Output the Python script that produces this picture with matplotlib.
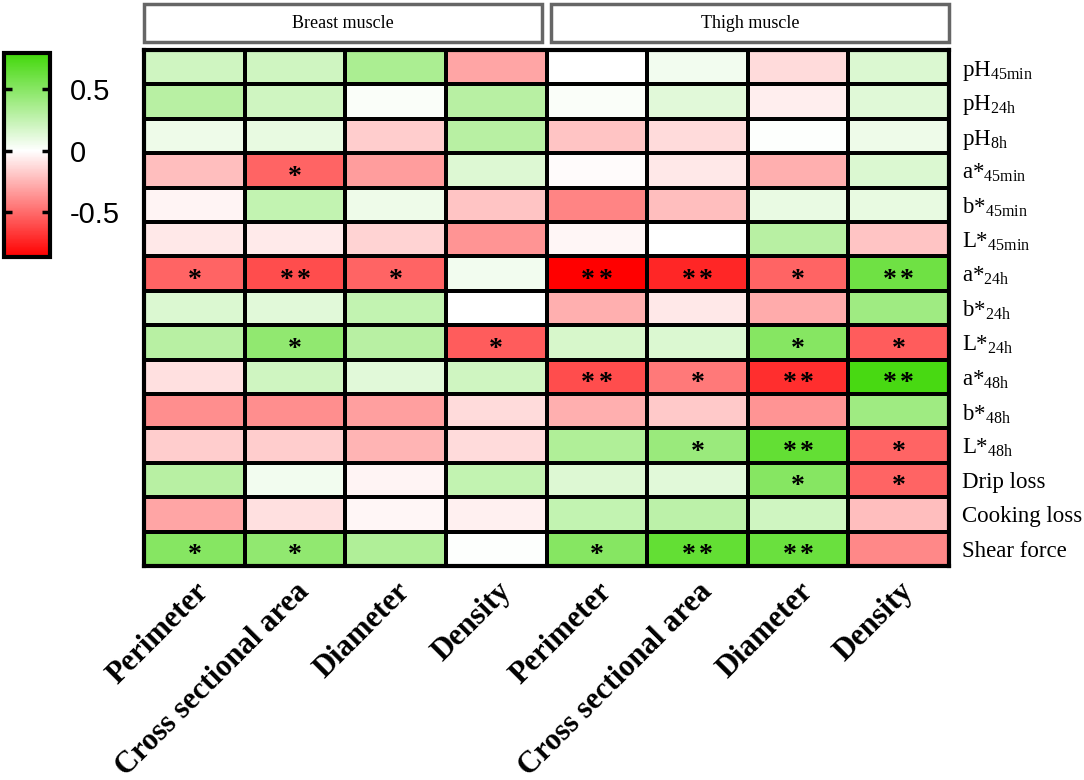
import numpy as np
import matplotlib
matplotlib.use("Agg")
import matplotlib.pyplot as plt
from matplotlib.colors import LinearSegmentedColormap, Normalize
from matplotlib.patches import Rectangle

# data
columns = ["Perimeter", "Cross sectional area", "Diameter", "Density",
           "Perimeter", "Cross sectional area", "Diameter", "Density"]
groups = ["Breast muscle", "Thigh muscle"]
rows = [r"pH$_{\mathrm{45min}}$", r"pH$_{\mathrm{24h}}$", r"pH$_{\mathrm{8h}}$",
        r"a*$_{\mathrm{45min}}$", r"b*$_{\mathrm{45min}}$", r"L*$_{\mathrm{45min}}$",
        r"a*$_{\mathrm{24h}}$", r"b*$_{\mathrm{24h}}$", r"L*$_{\mathrm{24h}}$",
        r"a*$_{\mathrm{48h}}$", r"b*$_{\mathrm{48h}}$", r"L*$_{\mathrm{48h}}$",
        "Drip loss", "Cooking loss", "Shear force"]

corr = np.array([
    [0.20, 0.20, 0.35, -0.30, 0.00, 0.05, -0.12, 0.15],
    [0.30, 0.20, 0.02, 0.30, 0.02, 0.12, -0.06, 0.13],
    [0.07, 0.10, -0.17, 0.30, -0.20, -0.12, 0.01, 0.07],
    [-0.22, -0.52, -0.33, 0.14, -0.01, -0.08, -0.27, 0.15],
    [-0.04, 0.25, 0.07, -0.20, -0.41, -0.22, 0.09, 0.10],
    [-0.08, -0.07, -0.15, -0.36, -0.03, 0.00, 0.30, -0.20],
    [-0.52, -0.60, -0.52, 0.05, -0.86, -0.73, -0.52, 0.60],
    [0.15, 0.12, 0.25, 0.00, -0.27, -0.08, -0.28, 0.40],
    [0.30, 0.46, 0.30, -0.55, 0.17, 0.15, 0.50, -0.55],
    [-0.10, 0.20, 0.12, 0.20, -0.60, -0.45, -0.70, 0.76],
    [-0.38, -0.38, -0.32, -0.12, -0.27, -0.18, -0.36, 0.40],
    [-0.17, -0.17, -0.25, -0.12, 0.33, 0.42, 0.65, -0.52],
    [0.30, 0.05, -0.04, 0.25, 0.14, 0.12, 0.50, -0.52],
    [-0.30, -0.10, -0.03, -0.05, 0.25, 0.28, 0.20, -0.22],
    [0.50, 0.46, 0.33, 0.01, 0.50, 0.65, 0.62, -0.40],
])

stars = [
    ["", "", "", "", "", "", "", ""],
    ["", "", "", "", "", "", "", ""],
    ["", "", "", "", "", "", "", ""],
    ["", "*", "", "", "", "", "", ""],
    ["", "", "", "", "", "", "", ""],
    ["", "", "", "", "", "", "", ""],
    ["*", "**", "*", "", "**", "**", "*", "**"],
    ["", "", "", "", "", "", "", ""],
    ["", "*", "", "*", "", "", "*", "*"],
    ["", "", "", "", "**", "*", "**", "**"],
    ["", "", "", "", "", "", "", ""],
    ["", "", "", "", "", "*", "**", "*"],
    ["", "", "", "", "", "", "*", "*"],
    ["", "", "", "", "", "", "", ""],
    ["*", "*", "", "", "*", "**", "**", ""],
]

vmin, vmax = -0.86, 0.79

plt.rcParams["mathtext.fontset"] = "custom"
plt.rcParams["mathtext.rm"] = "Liberation Serif"
plt.rcParams["mathtext.it"] = "Liberation Serif:italic"
plt.rcParams["font.family"] = "Liberation Serif"

W, H = 1084, 780
fig = plt.figure(figsize=(W / 100, H / 100), dpi=100)

white_pos = -vmin / (vmax - vmin)
cmap = LinearSegmentedColormap.from_list(
    "rg", [(0, "#ff0000"), (white_pos, "#ffffff"), (1, "#42d80a")])
norm = Normalize(vmin=vmin, vmax=vmax)

# heatmap
ax = fig.add_axes([144 / W, 1 - 566 / H, 805 / W, 516 / H])
mesh = ax.pcolormesh(corr, cmap=cmap, norm=norm, edgecolors="black", linewidth=1.6)
ax.set_xlim(0, 8)
ax.set_ylim(len(rows), 0)
for s in ax.spines.values():
    s.set_linewidth(3)

# significance marks, one glyph per star
for i in range(len(rows)):
    for j in range(len(columns)):
        n = len(stars[i][j])
        for k in range(n):
            ax.text(j + 0.5 + (k - (n - 1) / 2) * 0.17, i + 0.89, "*",
                    ha="center", va="baseline", fontsize=20, fontweight="bold",
                    color="black")

ax.yaxis.tick_right()
ax.set_yticks(np.arange(len(rows)) + 0.5)
ax.set_yticklabels(rows, fontsize=16.5)
ax.set_xticks(np.arange(len(columns)) + 0.5)
ax.set_xticklabels(columns, rotation=45, ha="right", va="top",
                   rotation_mode="anchor", fontsize=22, fontweight="bold")
ax.tick_params(axis="both", length=0)
ax.tick_params(axis="x", pad=8)
ax.tick_params(axis="y", pad=9)

# header boxes
hax = fig.add_axes([144 / W, 1 - 43 / H, 805 / W, 40 / H])
hax.set_xlim(0, 8)
hax.set_ylim(0, 1)
hax.axis("off")
for k, name in enumerate(groups):
    x0 = 4 * k + (0.0 if k == 0 else 0.04)
    wbox = 4 - 0.04
    hax.add_patch(Rectangle((x0, 0.03), wbox, 0.94, facecolor="white",
                            edgecolor="#666666", linewidth=2.5, clip_on=False))
    hax.text(x0 + wbox / 2, 0.5, name, ha="center", va="center", fontsize=13)

# colorbar
cax = fig.add_axes([4 / W, 1 - 257 / H, 46 / W, 204 / H])
cb = fig.colorbar(mesh, cax=cax, ticks=[-0.5, 0, 0.5])
cb.ax.set_yticklabels(["-0.5", "0", "0.5"], fontsize=21, family="Liberation Sans")
cb.outline.set_linewidth(3)
cax.tick_params(axis="y", direction="in", length=6, width=2.5, left=True, right=True, pad=14)

fig.savefig("out.png", dpi=100)
